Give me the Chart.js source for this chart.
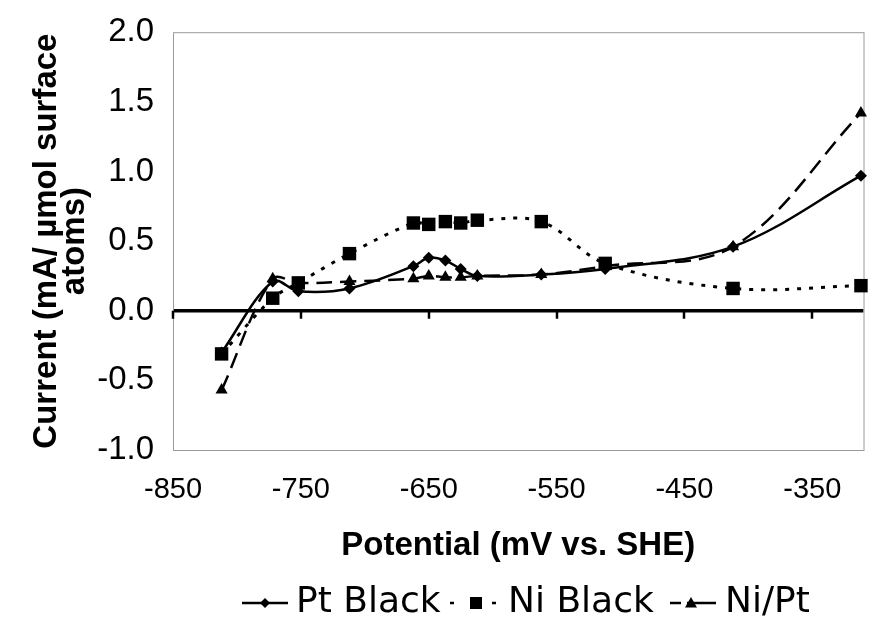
<!DOCTYPE html>
<html>
<head>
<meta charset="utf-8">
<script src="https://cdn.jsdelivr.net/npm/chart.js@4.4.1/dist/chart.umd.min.js"></script>
<style>
  html, body { margin: 0; padding: 0; background: #fff; }
  #wrap { width: 873px; height: 620px; }
</style>
</head>
<body>
<div id="wrap"><canvas id="c" width="873" height="620"></canvas></div>
<script>
// Potential (mV vs. SHE) at which each current was recorded
const potential = [-812, -772, -752, -712, -662, -650, -637, -625, -612, -562, -512, -412, -312];
// Current (mA / µmol surface atoms)
const ptBlack = [-0.30, 0.21, 0.14, 0.16, 0.32, 0.38, 0.36, 0.30, 0.25, 0.26, 0.30, 0.46, 0.97];
const niBlack = [-0.31, 0.09, 0.20, 0.41, 0.63, 0.62, 0.64, 0.63, 0.65, 0.64, 0.34, 0.16, 0.18];
const niPt    = [-0.57, 0.23, 0.20, 0.21, 0.23, 0.25, 0.24, 0.24, 0.25, 0.26, 0.32, 0.46, 1.42];

const seriesNames = ['Pt Black', 'Ni Black', 'Ni/Pt'];
const xTickValues = [-850, -750, -650, -550, -450, -350];
const yTickValues = [-1.0, -0.5, 0.0, 0.5, 1.0, 1.5, 2.0];

const toPoints = ys => potential.map((x, i) => ({ x: x, y: ys[i] }));

// plot frame drawn behind the data, plus the tick marks on the zero line
const framePlugin = {
  id: 'frame',
  beforeDatasetsDraw(chart) {
    const { ctx, chartArea: a } = chart;
    ctx.save();
    ctx.strokeStyle = '#9a9a9a';
    ctx.lineWidth = 1;
    ctx.strokeRect(a.left + 0.5, a.top + 0.5, a.right - a.left, a.bottom - a.top);
    const xs = chart.scales.x, ys = chart.scales.y;
    const y0 = ys.getPixelForValue(0);
    ctx.strokeStyle = '#000';
    ctx.lineWidth = 2.5;
    xs.ticks.forEach((t, i) => {
      const px = Math.round(xs.getPixelForTick(i));
      ctx.beginPath();
      ctx.moveTo(px, y0);
      ctx.lineTo(px, y0 + 8);
      ctx.stroke();
    });
    ctx.restore();
  }
};

function drawMarker(ctx, style, x, y, r) {
  ctx.beginPath();
  if (style === 'rectRot') {
    ctx.moveTo(x, y - r); ctx.lineTo(x + r, y); ctx.lineTo(x, y + r); ctx.lineTo(x - r, y);
  } else if (style === 'rect') {
    ctx.rect(x - r, y - r, 2 * r, 2 * r);
  } else {
    ctx.moveTo(x, y - r); ctx.lineTo(x + r, y + r * 0.75); ctx.lineTo(x - r, y + r * 0.75);
  }
  ctx.closePath();
  ctx.fill();
}

// legend row at the foot of the chart
const legendSampleX = [242, 450, 670];
const legendTextX = [296, 508, 725];
const legendPlugin = {
  id: 'rowLegend',
  afterDraw(chart) {
    const ctx = chart.ctx;
    ctx.save();
    ctx.font = '36px "DejaVu Sans"';
    ctx.textBaseline = 'middle';
    ctx.fillStyle = '#000';
    const y = 603;
    chart.data.datasets.forEach((ds, i) => {
      const x = legendSampleX[i];
      ctx.strokeStyle = '#000';
      ctx.lineWidth = 2.5;
      ctx.setLineDash(ds.legendDash);
      ctx.beginPath();
      ctx.moveTo(x, y);
      ctx.lineTo(x + 46, y);
      ctx.stroke();
      ctx.setLineDash([]);
      drawMarker(ctx, ds.pointStyle, ds.legendMarkerAt + x, y, ds.legendMarker);
      ctx.fillText(ds.label, legendTextX[i], y);
    });
    ctx.restore();
  }
};

new Chart(document.getElementById('c'), {
  type: 'line',
  data: {
    datasets: [
      {
        label: seriesNames[0], data: toPoints(ptBlack),
        borderColor: '#000', backgroundColor: '#000', borderWidth: 2.5,
        pointStyle: 'rectRot', pointRadius: 6, pointBorderWidth: 0,
        tension: 0.35, clip: false,
        legendDash: [], legendMarker: 5, legendMarkerAt: 23
      },
      {
        label: seriesNames[1], data: toPoints(niBlack),
        borderColor: '#000', backgroundColor: '#000', borderWidth: 3,
        borderDash: [4, 8],
        pointStyle: 'rect', pointRadius: 9.5, pointBorderWidth: 0,
        tension: 0.35, clip: false,
        legendDash: [4, 16, 12, 10, 4, 100], legendMarker: 6, legendMarkerAt: 26
      },
      {
        label: seriesNames[2], data: toPoints(niPt),
        borderColor: '#000', backgroundColor: '#000', borderWidth: 2.5,
        borderDash: [16, 8],
        pointStyle: 'triangle', pointRadius: 7, pointBorderWidth: 0,
        tension: 0.35, clip: false,
        legendDash: [11, 6, 100], legendMarker: 6, legendMarkerAt: 21
      }
    ]
  },
  options: {
    responsive: false,
    animation: false,
    layout: { padding: { top: 30, right: 2, bottom: 0, left: 0 } },
    plugins: { legend: { display: false }, tooltip: { enabled: false } },
    scales: {
      x: {
        type: 'linear', min: -850, max: -310,
        afterBuildTicks: s => { s.ticks = xTickValues.map(v => ({ value: v })); },
        afterFit: s => { s.height = 170; },
        grid: { display: false, drawTicks: false },
        border: { display: false },
        ticks: {
          color: '#000', padding: 23,
          font: { family: '"Liberation Sans", Arial', size: 29 },
          maxRotation: 0, autoSkip: false,
          callback: v => String(v)
        },
        title: {
          display: true, text: 'Potential (mV vs. SHE)', color: '#000',
          font: { family: '"Liberation Sans", Arial', size: 33, weight: 'bold', lineHeight: 1.0 },
          padding: { top: 0, bottom: 58 }
        }
      },
      y: {
        type: 'linear', min: -1, max: 2,
        afterBuildTicks: s => { s.ticks = yTickValues.map(v => ({ value: v })); },
        afterFit: s => { s.width = 173; },
        grid: {
          drawTicks: false,
          color: c => (c.tick && c.tick.value === 0 ? '#000' : 'rgba(0,0,0,0)'),
          lineWidth: c => (c.tick && c.tick.value === 0 ? 3.5 : 0)
        },
        border: { display: false },
        ticks: {
          color: '#000', padding: 19,
          font: { family: '"Liberation Sans", Arial', size: 33, lineHeight: 0.8 },
          callback: v => Number(v).toFixed(1)
        },
        title: {
          display: true, text: ['Current (mA/ \u00b5mol surface', 'atoms)'], color: '#000',
          font: { family: '"Liberation Sans", Arial', size: 33, weight: 'bold', lineHeight: 0.85 },
          padding: { top: 33, bottom: 0 }
        }
      }
    }
  },
  plugins: [framePlugin, legendPlugin]
});
</script>
</body>
</html>
